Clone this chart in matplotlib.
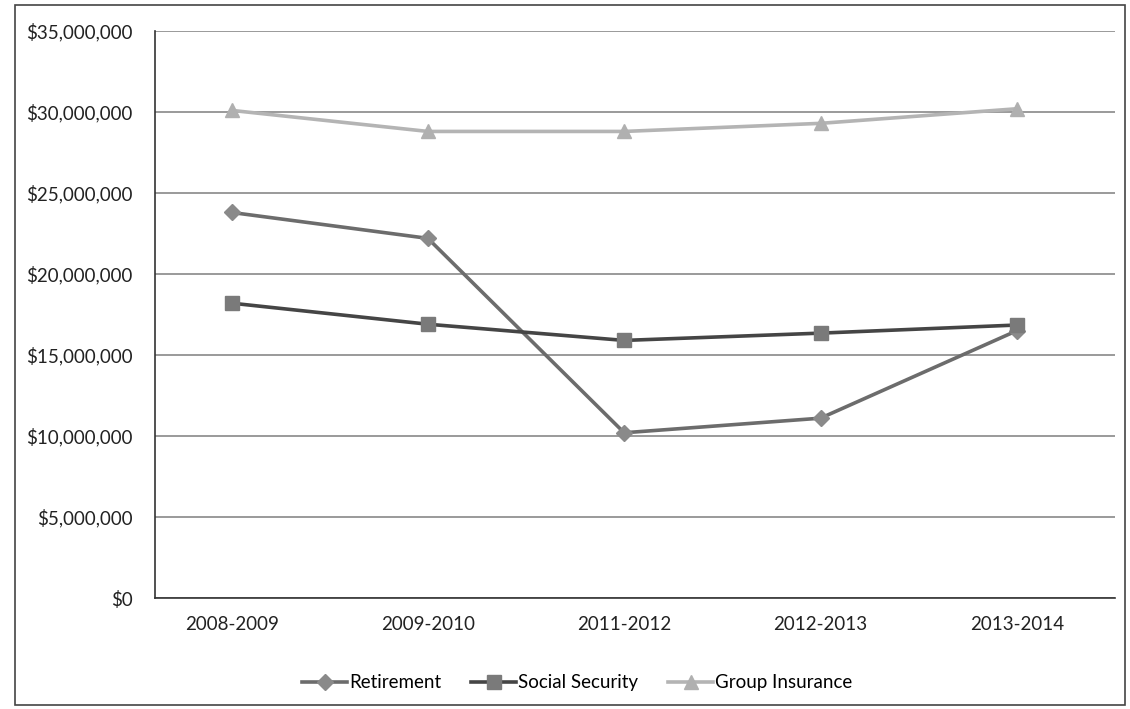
import matplotlib
matplotlib.use("Agg")
import matplotlib.pyplot as plt
from matplotlib.patches import Rectangle
from matplotlib.ticker import FuncFormatter, MultipleLocator

# data
years = ["2008-2009", "2009-2010", "2011-2012", "2012-2013", "2013-2014"]
retirement = [23_800_000, 22_200_000, 10_200_000, 11_100_000, 16_500_000]
social_security = [18_200_000, 16_900_000, 15_900_000, 16_350_000, 16_850_000]
group_insurance = [30_100_000, 28_800_000, 28_800_000, 29_300_000, 30_200_000]

plt.rcParams['font.family'] = ['Lato', 'DejaVu Sans']

fig = plt.figure(figsize=(11.3, 7.09), dpi=100)
ax = fig.add_axes([155 / 1130, 1 - 598 / 709, 960 / 1130, 567 / 709])

x = list(range(len(years)))
ax.plot(x, retirement, color="#6c6c6c", lw=2.6, marker="D", ms=8,
        mfc="#8a8a8a", mec="#8a8a8a", label="Retirement", zorder=3)
ax.plot(x, social_security, color="#454545", lw=2.6, marker="s", ms=10,
        mfc="#7a7a7a", mec="#7a7a7a", label="Social Security", zorder=3)
ax.plot(x, group_insurance, color="#b4b4b4", lw=2.6, marker="^", ms=10,
        mfc="#b0b0b0", mec="#b0b0b0", label="Group Insurance", zorder=3)

ax.set_xlim(-0.39, 4.5)
ax.set_ylim(0, 35_000_000)
ax.set_xticks(x)
ax.set_xticklabels(years)
ax.yaxis.set_major_locator(MultipleLocator(5_000_000))
ax.yaxis.set_major_formatter(FuncFormatter(lambda v, p: f"${v:,.0f}"))
ax.tick_params(axis="both", length=0, labelsize=13.5, colors="#222222")
ax.tick_params(axis="y", pad=16)
ax.tick_params(axis="x", pad=13)

ax.grid(axis="y", color="#9a9a9a", lw=1.4, zorder=1)
for s in ["top", "right"]:
    ax.spines[s].set_visible(False)
for s in ["left", "bottom"]:
    ax.spines[s].set_color("#333333")
    ax.spines[s].set_linewidth(1.2)

ax.legend(loc="upper center", bbox_to_anchor=(0.44, -0.105), ncol=3,
          frameon=False, fontsize=13.5, handlelength=2.4, columnspacing=1.6,
          handletextpad=0.1)

# outer chart border
fig.patches.append(Rectangle((15 / 1130, 4 / 709), 1110 / 1130, 700 / 709,
                             transform=fig.transFigure, fill=False,
                             edgecolor="#444444", lw=1.2))

fig.savefig("out.png", dpi=100)
